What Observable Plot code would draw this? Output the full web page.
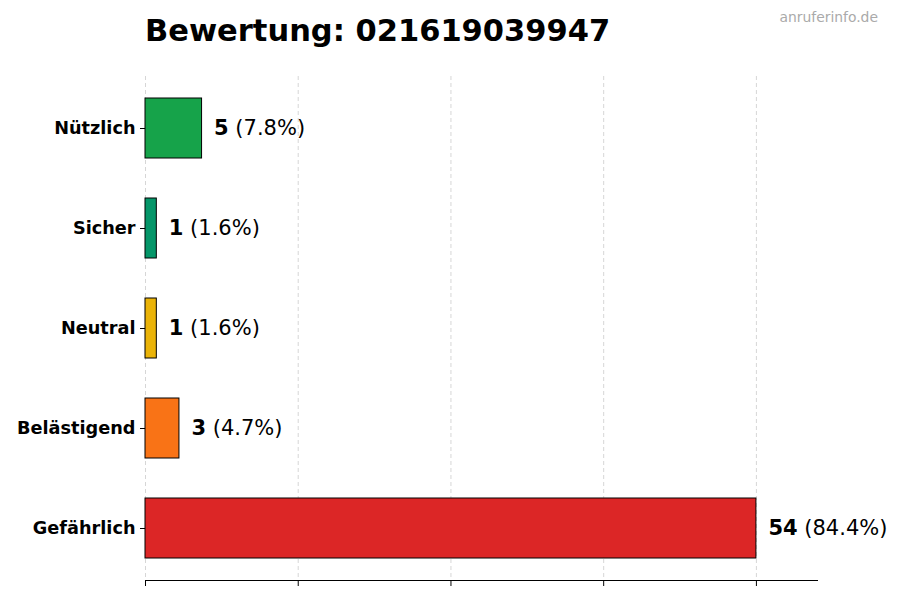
<!DOCTYPE html>
<html>
<head>
<meta charset="utf-8">
<script src="https://cdn.jsdelivr.net/npm/d3@7"></script>
<script src="https://cdn.jsdelivr.net/npm/@observablehq/plot@0.6"></script>
<style>
  html, body { margin: 0; padding: 0; background: #fff; }
  #wrap { position: relative; width: 900px; height: 600px; font-family: "DejaVu Sans", sans-serif; }
  #title { position: absolute; left: 145px; top: 16px; font-size: 30.5px; line-height: 30px; font-weight: bold; color: #000; white-space: nowrap; }
  #source { position: absolute; right: 22px; top: 10px; font-size: 13.9px; line-height: 14px; color: #aaaaaa; white-space: nowrap; }
  #chart { position: absolute; left: 0; top: 0; }
</style>
</head>
<body>
<div id="wrap">
  <div id="chart"></div>
  <div id="title">Bewertung: 021619039947</div>
  <div id="source">anruferinfo.de</div>
</div>
<script>
const categories = ["Nützlich", "Sicher", "Neutral", "Belästigend", "Gefährlich"];
const counts = [5, 1, 1, 3, 54];
const colors = ["#16a34a", "#059669", "#eab308", "#f97316", "#dc2626"];
const xTicks = [0, 13.5, 27, 40.5, 54];

const total = d3.sum(counts);
const data = categories.map((c, i) => ({
  cat: c,
  count: counts[i],
  pct: d3.format(".1f")(counts[i] / total * 100) + "%"
}));
const maxVal = d3.max(counts);

const plot = Plot.plot({
  width: 900,
  height: 600,
  marginLeft: 145,
  marginRight: 83,
  marginTop: 76,
  marginBottom: 20,
  style: { fontFamily: "DejaVu Sans, sans-serif", background: "transparent", overflow: "visible" },
  x: { domain: [0, maxVal * 1.1], axis: null },
  y: { domain: categories, paddingInner: 0.4, paddingOuter: 0.22, axis: null },
  color: { domain: categories, range: colors },
  marks: [
    Plot.gridX(xTicks, { stroke: "#cccccc", strokeOpacity: 1, strokeWidth: 0.8, strokeDasharray: "4,3" }),
    Plot.barX(data, { x: "count", y: "cat", fill: "cat", stroke: "#000", strokeWidth: 1 }),
    Plot.frame({ anchor: "bottom", stroke: "#000", strokeWidth: 1 }),
    Plot.axisX(xTicks, { tickSize: 6, tickFormat: () => "", stroke: "#000", label: null }),
    Plot.axisY({ tickSize: 5, tickPadding: 5, fontSize: 17.7, fontWeight: "bold", fill: "#000", stroke: "#000", label: null }),
    Plot.text(data, {
      x: "count", y: "cat",
      text: d => `${d.count} (${d.pct})`,
      textAnchor: "start", dx: 12, fontSize: 21, fill: "#000"
    })
  ]
});

// split value labels into bold count + normal percentage
plot.querySelectorAll('g[aria-label="text"] text').forEach(t => {
  const s = t.textContent;
  const m = s.match(/^(\d+) (\(.*\))$/);
  if (!m) return;
  t.textContent = "";
  const ns = "http://www.w3.org/2000/svg";
  const a = document.createElementNS(ns, "tspan");
  a.setAttribute("font-weight", "bold");
  a.textContent = m[1];
  const b = document.createElementNS(ns, "tspan");
  b.textContent = " " + m[2];
  t.appendChild(a);
  t.appendChild(b);
});

document.getElementById("chart").appendChild(plot);
</script>
</body>
</html>
